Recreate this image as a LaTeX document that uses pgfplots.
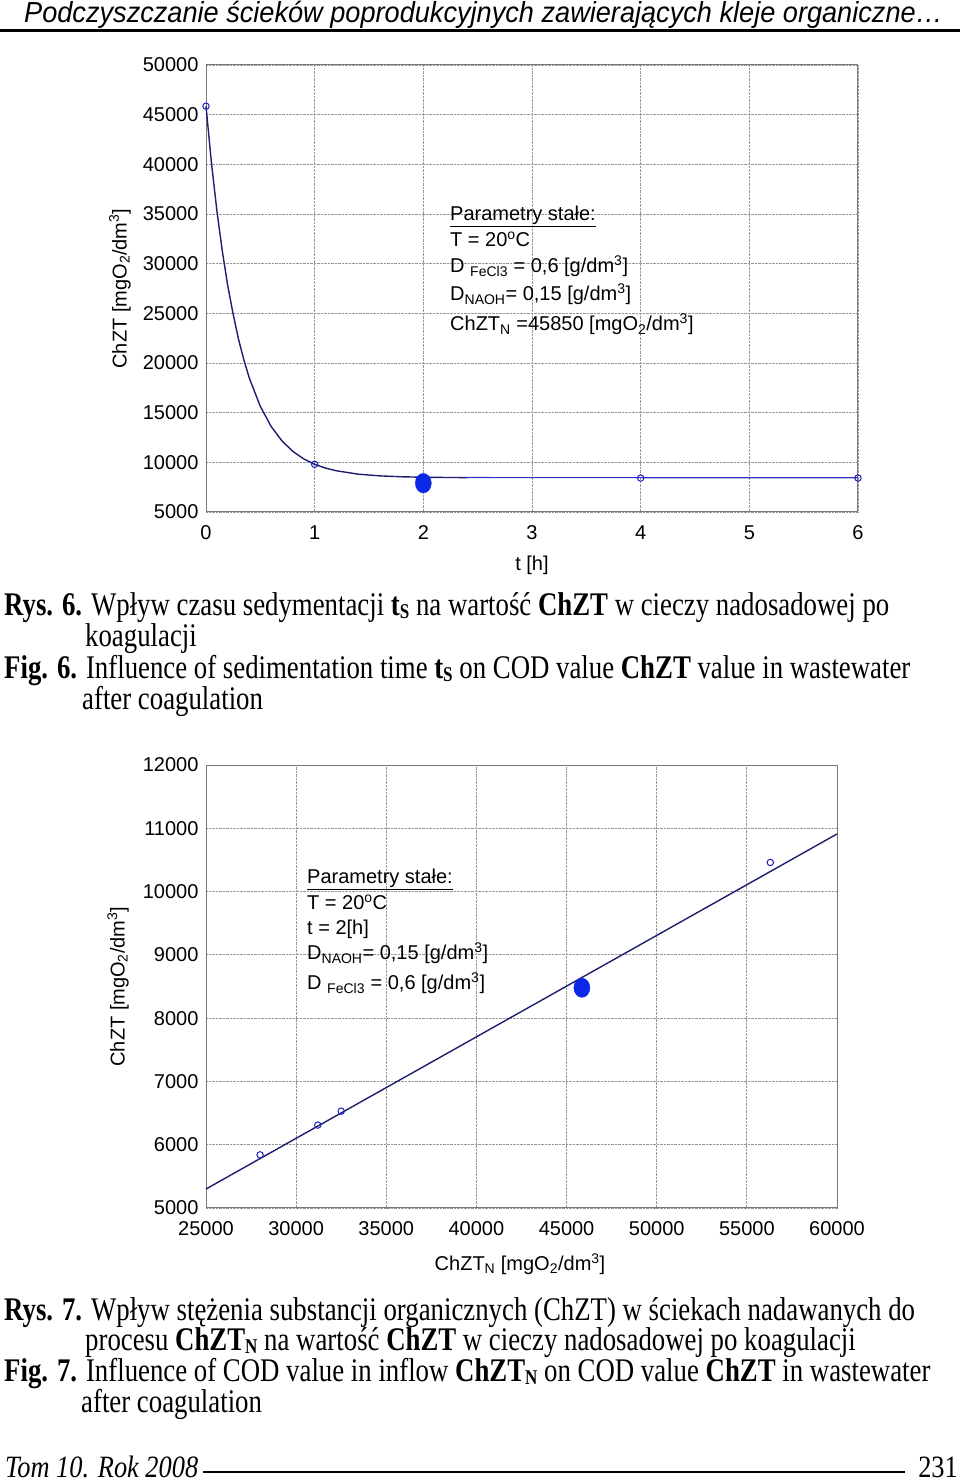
\documentclass[border=0pt]{standalone}
\usepackage{fontspec}
\setmainfont{Liberation Sans}
\newfontfamily\tnr{Liberation Serif}
\usepackage{graphicx}
\usepackage{pgfplots}
\pgfplotsset{compat=1.18}
\usepackage{pgfplotstable}

\definecolor{navy}{RGB}{30,30,110}
\definecolor{lblue}{RGB}{50,50,200}
\definecolor{mblue}{RGB}{30,30,190}
\definecolor{blob}{RGB}{10,40,230}
\definecolor{gridc}{RGB}{150,150,150}
\definecolor{boxc}{RGB}{120,120,120}

% Fig. 6: fitted curve
\pgfplotstableread{
t y
0 45850
0.05 40160
0.1 35350
0.15 31260
0.2 27800
0.25 24900
0.3 22360
0.35 20250
0.4 18440
0.5 15630
0.6 13600
0.7 12145
0.8 11090
0.9 10340
1.0 9800
1.1 9420
1.2 9150
1.4 8808
1.6 8635
1.8 8545
2.0 8499
2.2 8475
2.4 8463
}\curveA
\pgfplotstableread{
t y
0 45850
1 9800
4 8420
6 8420
}\pointsA
% Fig. 7 data
\pgfplotstableread{
x y
28000 5840
31200 6310
32500 6530
56300 10460
}\pointsB

\newcommand{\capfont}{\tnr\fontsize{33}{36}\selectfont}
\newcommand{\capline}[3]{\node[anchor=base west,inner sep=0pt] at (#1pt,#2pt) {\capfont\scalebox{0.812}[1]{#3}};}
\newcommand{\csub}[1]{\raisebox{-3pt}{\fontsize{21}{21}\selectfont #1}}
\newcommand{\sfs}{\fontsize{20}{24}\selectfont}

\pgfplotsset{
 chartstyle/.style={
  scale only axis,
  grid=major,
  major grid style={densely dotted, gridc, line width=0.8pt},
  axis line style={boxc, line width=1pt},
  tick style={draw=none},
  scaled ticks=false,
  /pgf/number format/1000 sep={},
  /pgf/number format/assume math mode=true,
  tick label style={font=\sfs},
  label style={font=\sfs},
  xticklabel style={yshift=-10pt},
  yticklabel style={xshift=-4pt},
 }
}

\begin{document}
\begin{tikzpicture}
\path[use as bounding box] (0pt,0pt) rectangle (960pt,1484pt);

% header
\node[anchor=west,inner sep=0pt] at (24pt,1469pt) {\fontsize{29}{32}\selectfont\scalebox{0.936}[1]{\itshape Podczyszczanie ścieków poprodukcyjnych zawierających kleje organiczne…}};
\draw[line width=3pt] (0pt,1453pt) -- (960pt,1453pt);

% ---------- Fig. 6 ----------
\begin{axis}[chartstyle,
  at={(206pt,972pt)}, anchor=south west,
  width=652pt, height=447pt,
  xmin=0, xmax=6, ymin=5000, ymax=50000,
  xtick={0,1,2,3,4,5,6},
  ytick={5000,10000,15000,20000,25000,30000,35000,40000,45000,50000},
  xlabel={t [h]},
  ylabel={ChZT [mgO\textsubscript{2}/dm\textsuperscript{3}]},
  xlabel style={at={(axis description cs:0.5,-0.1186)},anchor=center},
  ylabel style={at={(axis description cs:-0.132,0.5)},anchor=center},
  clip=false,
]
\addplot[navy, line width=1.4pt, no marks] table[x=t,y=y] {\curveA};
\addplot[lblue, line width=1.2pt, no marks] coordinates {(2.4,8463) (6,8450)};
\addplot[only marks, mark=o, mark size=3.2pt, mblue, mark options={line width=1pt}] table[x=t,y=y] {\pointsA};
\addplot[only marks, mark=*, mark size=8pt, blob, mark options={yscale=1.22}] coordinates {(2,7900)};
\end{axis}

% annotation Fig. 6
\begin{scope}[every node/.style={anchor=base west,inner sep=0pt,font=\sfs}]
\node at (450pt,1263pt) {\underline{Parametry stałe:}};
\node at (450pt,1237pt) {T = 20\textsuperscript{o}C};
\node at (450pt,1211pt) {D \textsubscript{FeCl3} = 0,6 [g/dm\textsuperscript{3}]};
\node at (450pt,1183pt) {D\textsubscript{NAOH}= 0,15 [g/dm\textsuperscript{3}]};
\node at (450pt,1153pt) {ChZT\textsubscript{N} =45850 [mgO\textsubscript{2}/dm\textsuperscript{3}]};
\end{scope}

% captions Fig. 6
\capline{4}{868}{\textbf{Rys. 6.} Wpływ czasu sedymentacji \textbf{t\csub{S}} na wartość \textbf{ChZT} w cieczy nadosadowej po}
\capline{85}{837}{koagulacji}
\capline{4}{805}{\textbf{Fig. 6.} Influence of sedimentation time \textbf{t\csub{S}} on COD value \textbf{ChZT} value in wastewater}
\capline{82}{774}{after coagulation}

% ---------- Fig. 7 ----------
\begin{axis}[chartstyle,
  at={(206pt,276pt)}, anchor=south west,
  width=631pt, height=443pt,
  xmin=25000, xmax=60000, ymin=5000, ymax=12000,
  xtick={25000,30000,35000,40000,45000,50000,55000,60000},
  ytick={5000,6000,7000,8000,9000,10000,11000,12000},
  xlabel={ChZT\textsubscript{N} [mgO\textsubscript{2}/dm\textsuperscript{3}]},
  ylabel={ChZT [mgO\textsubscript{2}/dm\textsuperscript{3}]},
  xlabel style={at={(axis description cs:0.4976,-0.1264)},anchor=center},
  ylabel style={at={(axis description cs:-0.1395,0.5)},anchor=center},
  clip=false,
]
\addplot[navy, line width=1.4pt, no marks] coordinates {(25000,5300) (60000,10910)};
\addplot[only marks, mark=o, mark size=3.2pt, mblue, mark options={line width=1pt}] table[x=x,y=y] {\pointsB};
\addplot[only marks, mark=*, mark size=8pt, blob, mark options={yscale=1.2}] coordinates {(45850,8480)};
\end{axis}

% annotation Fig. 7
\begin{scope}[every node/.style={anchor=base west,inner sep=0pt,font=\sfs}]
\node at (307pt,600pt) {\underline{Parametry stałe:}};
\node at (307pt,574pt) {T = 20\textsuperscript{o}C};
\node at (307pt,549pt) {t = 2[h]};
\node at (307pt,524pt) {D\textsubscript{NAOH}= 0,15 [g/dm\textsuperscript{3}]};
\node at (307pt,494pt) {D \textsubscript{FeCl3} = 0,6 [g/dm\textsuperscript{3}]};
\end{scope}

% captions Fig. 7
\capline{4}{163}{\textbf{Rys. 7.} Wpływ stężenia substancji organicznych (ChZT) w ściekach nadawanych do}
\capline{85}{133}{procesu \textbf{ChZT\csub{N}} na wartość \textbf{ChZT} w cieczy nadosadowej po koagulacji}
\capline{4}{102}{\textbf{Fig. 7.} Influence of COD value in inflow \textbf{ChZT\csub{N}} on COD value \textbf{ChZT} in wastewater}
\capline{81}{71}{after coagulation}

% footer
\node[anchor=base west,inner sep=0pt] at (5pt,6pt) {\tnr\fontsize{31}{34}\selectfont\scalebox{0.85}[1]{\itshape Tom 10. Rok 2008}};
\draw[line width=2pt] (203pt,12pt) -- (905pt,12pt);
\node[anchor=base east,inner sep=0pt] at (958pt,6pt) {\tnr\fontsize{31}{34}\selectfont\scalebox{0.85}[1]{231}};
\end{tikzpicture}
\end{document}
